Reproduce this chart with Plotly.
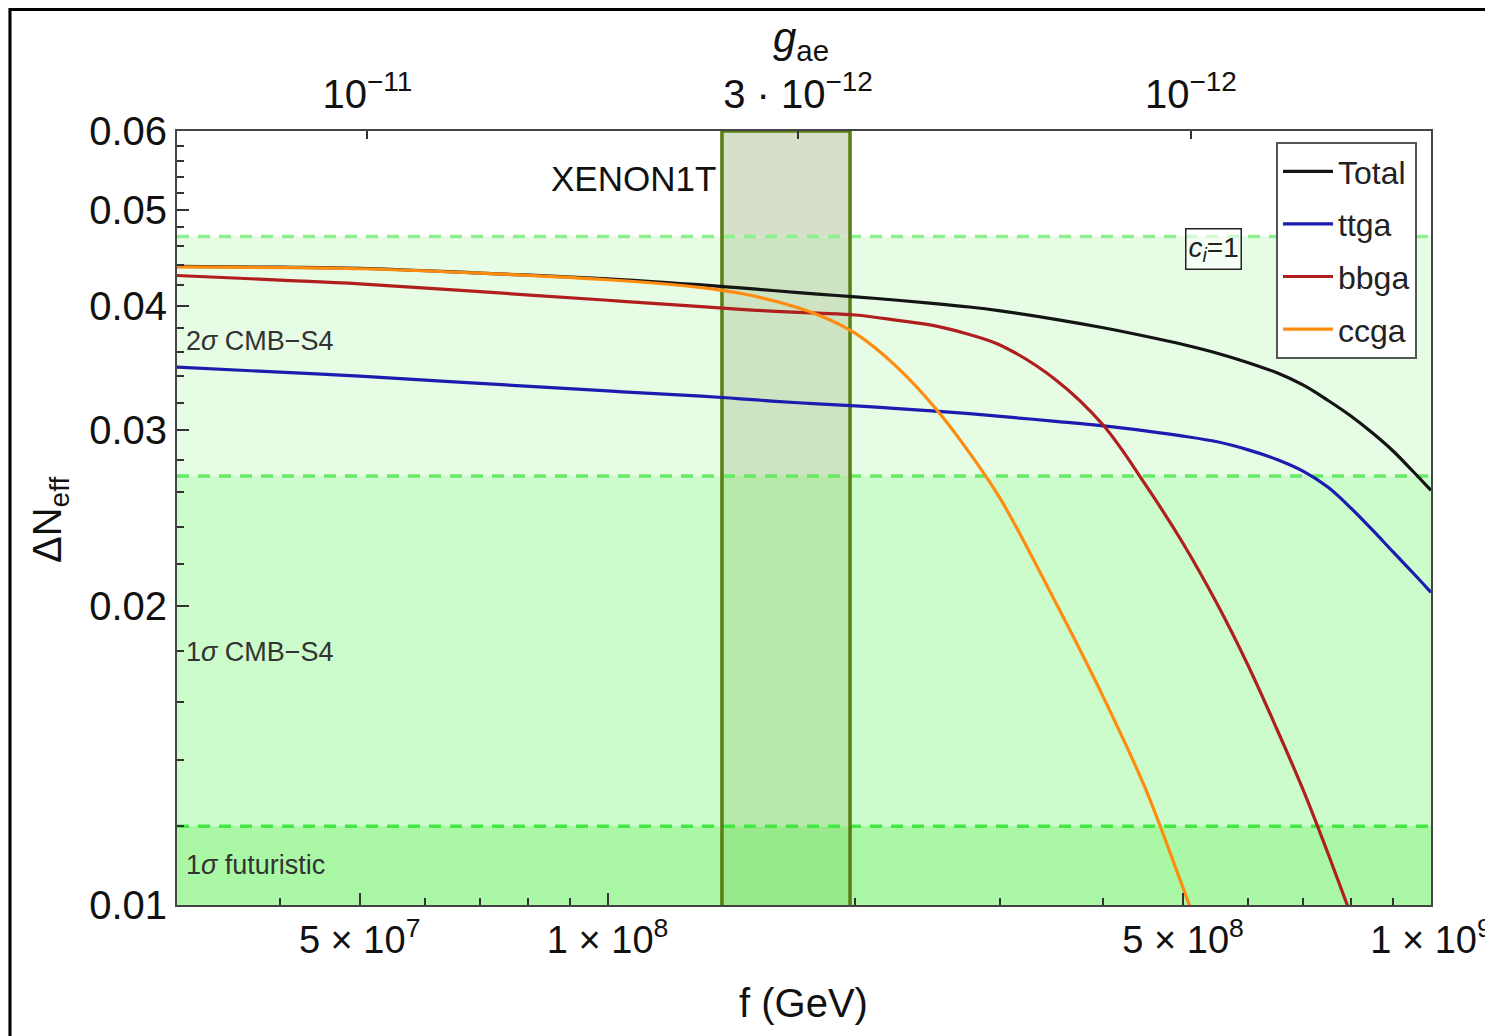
import numpy as np
import plotly.graph_objects as go

# ---------------- data ----------------
f_gev = [3e7, 4e7, 5e7, 7e7, 1e8, 1.3e8, 1.45e8, 1.6e8, 1.8e8, 2e8, 2.25e8, 2.5e8,
         2.75e8, 3e8, 3.5e8, 4e8, 4.5e8, 5e8, 5.5e8, 6e8, 6.5e8, 7e8, 7.5e8, 8e8,
         8.5e8, 9e8, 9.5e8, 1e9]

dn_total = [0.04385, 0.04378, 0.04367, 0.04318, 0.04261, 0.04201, 0.04173, 0.04145,
            0.04113, 0.04087, 0.04055, 0.04024, 0.03992, 0.03956, 0.03880, 0.03805,
            0.03731, 0.03660, 0.03587, 0.03509, 0.03428, 0.03331, 0.03215, 0.03100,
            0.02980, 0.02859, 0.02731, 0.02611]

dn_ttga = [0.03474, 0.03433, 0.03402, 0.03345, 0.03287, 0.03248, 0.03228, 0.03209,
           0.03190, 0.03175, 0.03156, 0.03137, 0.03119, 0.03099, 0.03064, 0.03032,
           0.02997, 0.02961, 0.02922, 0.02868, 0.02805, 0.02729, 0.02630, 0.02505,
           0.02380, 0.02263, 0.02159, 0.02062]

dn_bbga = [0.04294, 0.04249, 0.04212, 0.04136, 0.04055, 0.03995, 0.03971, 0.03952,
           0.03936, 0.03919, 0.03871, 0.03822, 0.03746, 0.03654, 0.03374, 0.03036,
           0.02646, 0.02309, 0.02007, 0.01739, 0.01502, 0.01303, 0.01126, 0.00976,
           0.00847, None, None, None]

dn_ccga = [0.04380, 0.04374, 0.04362, 0.04318, 0.04252, 0.04176, 0.04121, 0.04045,
           0.03921, 0.03755, 0.03470, 0.03160, 0.02850, 0.02560, 0.02015, 0.01618,
           0.01309, 0.01040, 0.00839, None, None, None, None, None,
           None, None, None, None]

series_names = ["Total", "ttga", "bbga", "ccga"]
series_colors = ["#141414", "#1c1cb0", "#b01e1e", "#ff8c0f"]

# sensitivity levels (Delta N_eff)
band_levels = [0.047, 0.027, 0.012]
band_labels = ["2<i>σ</i> CMB−S4", "1<i>σ</i> CMB−S4", "1<i>σ</i> futuristic"]
band_label_y = [0.0369, 0.01795, 0.01097]
band_colors = ["#e6fce5", "#ccfccb", "#aaf8a6"]
dash_colors = ["#8ef08e", "#66ea66", "#44e844"]

# XENON1T window in f (GeV)
xenon_f = [1.377e8, 1.97e8]
xenon_fill = ["#98e98c", "#b6e9a9", "#cde3c2", "#d6dfc7"]  # bottom -> top regions

# axis ranges and ticks
f_range = [3e7, 1e9]
y_range = [0.01, 0.06]
x_major = [5e7, 1e8, 5e8, 1e9]
x_major_text = ["5 × 10<sup>7</sup>", "1 × 10<sup>8</sup>", "5 × 10<sup>8</sup>", "1 × 10<sup>9</sup>"]
x_minor = [4e7, 6e7, 7e7, 8e7, 9e7, 2e8, 3e8, 4e8, 6e8, 7e8, 8e8, 9e8]
y_major = [0.01, 0.02, 0.03, 0.04, 0.05, 0.06]
y_major_text = ["0.01", "0.02", "0.03", "0.04", "0.05", "0.06"]
y_minor = [0.012, 0.014, 0.016, 0.018, 0.022, 0.024, 0.026, 0.028,
           0.032, 0.034, 0.036, 0.038, 0.042, 0.044, 0.046, 0.048,
           0.052, 0.054, 0.056, 0.058]

M_E_GEV = 5.11e-4  # g_ae = m_e / f
gae_ticks = [1e-11, 3e-12, 1e-12]
gae_text = ["10<sup>−11</sup>", "3 · 10<sup>−12</sup>", "10<sup>−12</sup>"]

FONT = "Arial, Liberation Sans, sans-serif"

# ---------------- figure ----------------
fig = go.Figure()

fmin, fmax = f_range
ymin, ymax = y_range

# green sensitivity bands (largest first)
for lev, col in zip(band_levels, band_colors):
    fig.add_trace(go.Scatter(x=[fmin, fmax, fmax, fmin, fmin], y=[ymin, ymin, lev, lev, ymin],
                             mode="lines", fill="toself", fillcolor=col,
                             line=dict(width=0), hoverinfo="skip", showlegend=False))

# XENON1T window fills per region
edges = [ymin] + sorted(band_levels) + [ymax]
xa, xb = xenon_f
for i, col in enumerate(xenon_fill):
    y0, y1 = edges[i], edges[i + 1]
    fig.add_trace(go.Scatter(x=[xa, xb, xb, xa, xa], y=[y0, y0, y1, y1, y0],
                             mode="lines", fill="toself", fillcolor=col,
                             line=dict(width=0), hoverinfo="skip", showlegend=False))

# dashed band edges
for lev, col in zip(band_levels, dash_colors):
    fig.add_trace(go.Scatter(x=[fmin, fmax], y=[lev, lev], mode="lines",
                             line=dict(color=col, width=3.5, dash="12px,9px"),
                             hoverinfo="skip", showlegend=False))

# XENON1T border
fig.add_trace(go.Scatter(x=[xa, xa, xb, xb], y=[ymin, ymax, ymax, ymin], mode="lines",
                         line=dict(color="#5a7d14", width=3.5),
                         hoverinfo="skip", showlegend=False))

# curves
for name, vals, col in zip(series_names, [dn_total, dn_ttga, dn_bbga, dn_ccga], series_colors):
    fig.add_trace(go.Scatter(x=f_gev, y=vals, mode="lines", name=name,
                             line=dict(color=col, width=3.2, shape="spline", smoothing=1.0),
                             legendgroup=name))

# dummy on top axis
fig.add_trace(go.Scatter(x=[fmin, fmax], y=[ymin, ymin], xaxis="x2", mode="lines",
                         line=dict(width=0), hoverinfo="skip", showlegend=False))

# the page has an 8px body margin; size the figure so the plot lands where it should
OFF = 8
W, H = 1493, 1028
ml, mr, mt, mb = 169, 70, 123, 131
pw, ph = W - ml - mr, H - mt - mb


def px_x(p):  # page pixel -> paper x
    return (p - OFF - ml) / pw


def px_y(p):  # page pixel -> paper y
    return (OFF + mt + ph - p) / ph


fig.update_layout(
    width=W, height=H,
    margin=dict(l=ml, r=mr, t=mt, b=mb, autoexpand=False),
    paper_bgcolor="#c9dcf1",
    plot_bgcolor="white",
    font=dict(family=FONT, color="#111"),
    showlegend=True,
    legend=dict(x=px_x(1417), xanchor="right", y=px_y(142), yanchor="top",
                bgcolor="white", bordercolor="#555", borderwidth=2,
                font=dict(size=32, family=FONT, color="#222"),
                tracegroupgap=8, itemwidth=50),
    xaxis=dict(type="log", range=[np.log10(fmin), np.log10(fmax)], automargin=False,
               tickmode="array", tickvals=x_major, ticktext=x_major_text,
               ticks="inside", ticklen=12, tickwidth=1.5, tickcolor="#333",
               tickfont=dict(size=38, family=FONT, color="#111"),
               showline=True, linecolor="#444", linewidth=2, mirror=True,
               showgrid=False, zeroline=False,
               minor=dict(tickmode="array", tickvals=x_minor, ticks="inside",
                          ticklen=7, tickwidth=1.5, tickcolor="#333", showgrid=False)),
    xaxis2=dict(type="log", range=[np.log10(fmin), np.log10(fmax)], overlaying="x",
                side="top", anchor="y", automargin=False,
                tickmode="array", tickvals=[M_E_GEV / g for g in gae_ticks], ticktext=gae_text,
                ticks="inside", ticklen=8, tickwidth=1.5, tickcolor="#333",
                ticklabelstandoff=14,
                tickfont=dict(size=40, family=FONT, color="#111"),
                showline=False, showgrid=False, zeroline=False),
    yaxis=dict(type="log", range=[np.log10(ymin), np.log10(ymax)], automargin=False,
               tickmode="array", tickvals=y_major, ticktext=y_major_text,
               ticks="inside", ticklen=12, tickwidth=1.5, tickcolor="#333",
               tickfont=dict(size=40, family=FONT, color="#111"),
               showline=True, linecolor="#444", linewidth=2, mirror=True,
               showgrid=False, zeroline=False,
               minor=dict(tickmode="array", tickvals=y_minor, ticks="inside",
                          ticklen=7, tickwidth=1.5, tickcolor="#333", showgrid=False)),
)

# outer white panel with black frame
fig.add_shape(type="rect", xref="paper", yref="paper",
              x0=px_x(10), x1=px_x(1540), y0=px_y(1060), y1=px_y(9.5),
              fillcolor="white", line=dict(color="black", width=3), layer="below")

# axis titles
fig.add_annotation(xref="paper", yref="paper", x=px_x(803), y=px_y(1003),
                   xanchor="center", yanchor="middle",
                   text="f (GeV)", showarrow=False, font=dict(size=40, family=FONT, color="#111"))
fig.add_annotation(xref="paper", yref="paper", x=px_x(50), y=px_y(520),
                   xanchor="center", yanchor="middle",
                   text="ΔN<sub>eff</sub>", textangle=-90, showarrow=False,
                   font=dict(size=40, family=FONT, color="#111"))
fig.add_annotation(xref="paper", yref="paper", x=px_x(801), y=px_y(40),
                   xanchor="center", yanchor="middle",
                   text="<i>g</i><sub>ae</sub>", showarrow=False,
                   font=dict(size=42, family=FONT, color="#111"))

# band labels
for txt, yv in zip(band_labels, band_label_y):
    fig.add_annotation(xref="paper", yref="y", x=px_x(184), y=np.log10(yv), xanchor="left",
                       text=txt, showarrow=False, font=dict(size=27, family=FONT, color="#333"))

# XENON1T label
fig.add_annotation(xref="x", yref="y", x=np.log10(1.36e8), y=np.log10(0.0538), xanchor="right",
                   text="XENON1T", showarrow=False, font=dict(size=35, family=FONT, color="#111"))

# c_i = 1 label
fig.add_annotation(xref="x", yref="y", x=np.log10(5.45e8), y=np.log10(0.0457),
                   text="<i>c<sub>i</sub></i>=1", showarrow=False,
                   bordercolor="#222", borderwidth=1.5, borderpad=2, bgcolor="rgba(255,255,255,0.6)",
                   font=dict(size=28, family=FONT, color="#222"))

fig.write_html("out.html")
